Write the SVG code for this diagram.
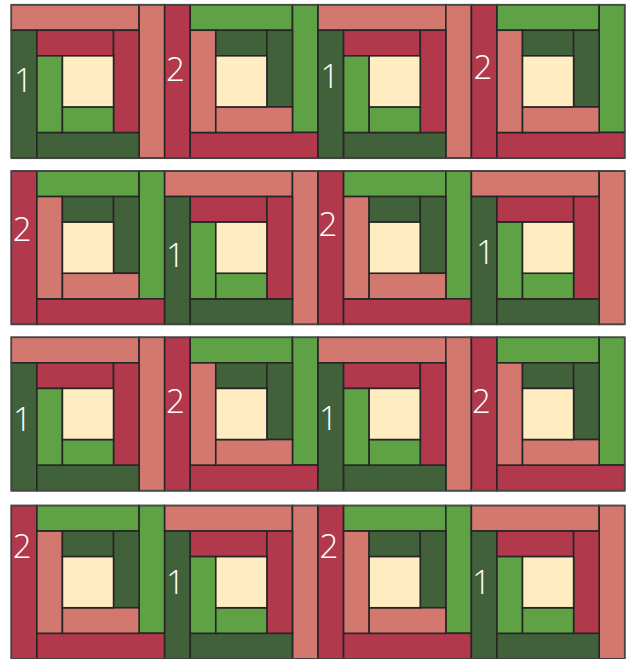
<svg xmlns="http://www.w3.org/2000/svg" xmlns:xlink="http://www.w3.org/1999/xlink" width="633" height="659" viewBox="0 0 633 659">
<style>
rect{stroke:#262626;stroke-width:1.6}
.s{fill:#D3786F}.r{fill:#B2394C}.g{fill:#5FA245}.d{fill:#41613B}.c{fill:#FFECC0}
.row{fill:none;stroke:#4a4a4a;stroke-width:1.2}
.shadow{stroke:#d4d4d4;stroke-width:1.2}
text{font-family:"Open Sans","Noto Sans","Liberation Sans",sans-serif;font-weight:300;font-size:33px;fill:#ffffff;text-anchor:middle}
</style>
<defs>
<g id="blockA">
<rect class="s" x="0" y="0" width="127.8" height="25.56"/>
<rect class="s" x="127.8" y="0" width="25.56" height="153.36"/>
<rect class="d" x="0" y="25.56" width="25.56" height="127.8"/>
<rect class="d" x="25.56" y="127.8" width="102.24" height="25.56"/>
<rect class="r" x="25.56" y="25.56" width="76.68" height="25.56"/>
<rect class="r" x="102.24" y="25.56" width="25.56" height="102.24"/>
<rect class="g" x="25.56" y="51.12" width="25.56" height="76.68"/>
<rect class="g" x="51.12" y="102.24" width="51.12" height="25.56"/>
<rect class="c" x="51.12" y="51.12" width="51.12" height="51.12"/>
</g>
<g id="blockB">
<rect class="r" x="0" y="0" width="25.56" height="153.36"/>
<rect class="g" x="25.56" y="0" width="102.24" height="25.56"/>
<rect class="g" x="127.8" y="0" width="25.56" height="127.8"/>
<rect class="r" x="25.56" y="127.8" width="127.8" height="25.56"/>
<rect class="s" x="25.56" y="25.56" width="25.56" height="102.24"/>
<rect class="d" x="51.12" y="25.56" width="51.12" height="25.56"/>
<rect class="d" x="102.24" y="25.56" width="25.56" height="76.68"/>
<rect class="s" x="51.12" y="102.24" width="76.68" height="25.56"/>
<rect class="c" x="51.12" y="51.12" width="51.12" height="51.12"/>
</g>
</defs>
<rect width="633" height="659" fill="#ffffff" style="stroke:none"/>
<g id="shadows">
<line class="shadow" x1="11.3" y1="158.6" x2="624.7" y2="158.6"/>
<line class="shadow" x1="11.3" y1="324.9" x2="624.7" y2="324.9"/>
<line class="shadow" x1="11.3" y1="491.3" x2="624.7" y2="491.3"/>
</g>
<g id="row1">
<g id="r1b1"><use xlink:href="#blockA" x="11.3" y="4.7"/><text x="23.5" y="92">1</text></g>
<g id="r1b2"><use xlink:href="#blockB" x="164.66" y="4.7"/><text x="175.5" y="81">2</text></g>
<g id="r1b3"><use xlink:href="#blockA" x="318.02" y="4.7"/><text x="330" y="88">1</text></g>
<g id="r1b4"><use xlink:href="#blockB" x="471.38" y="4.7"/><text x="483" y="79">2</text></g>
<rect class="row" x="11.3" y="4.7" width="613.44" height="153.36"/>
</g>
<g id="row2">
<g id="r2b1"><use xlink:href="#blockB" x="11.3" y="171"/><text x="22.2" y="241">2</text></g>
<g id="r2b2"><use xlink:href="#blockA" x="164.66" y="171"/><text x="175.5" y="266.7">1</text></g>
<g id="r2b3"><use xlink:href="#blockB" x="318.02" y="171"/><text x="327.8" y="235.7">2</text></g>
<g id="r2b4"><use xlink:href="#blockA" x="471.38" y="171"/><text x="485.5" y="264.3">1</text></g>
<rect class="row" x="11.3" y="171" width="613.44" height="153.36"/>
</g>
<g id="row3">
<g id="r3b1"><use xlink:href="#blockA" x="11.3" y="337.3"/><text x="22.5" y="431.3">1</text></g>
<g id="r3b2"><use xlink:href="#blockB" x="164.66" y="337.3"/><text x="175.5" y="413">2</text></g>
<g id="r3b3"><use xlink:href="#blockA" x="318.02" y="337.3"/><text x="328.5" y="429.7">1</text></g>
<g id="r3b4"><use xlink:href="#blockB" x="471.38" y="337.3"/><text x="481.5" y="412.7">2</text></g>
<rect class="row" x="11.3" y="337.3" width="613.44" height="153.36"/>
</g>
<g id="row4">
<g id="r4b1"><use xlink:href="#blockB" x="11.3" y="505.5"/><text x="22.2" y="558.3">2</text></g>
<g id="r4b2"><use xlink:href="#blockA" x="164.66" y="505.5"/><text x="175.5" y="594">1</text></g>
<g id="r4b3"><use xlink:href="#blockB" x="318.02" y="505.5"/><text x="329" y="558">2</text></g>
<g id="r4b4"><use xlink:href="#blockA" x="471.38" y="505.5"/><text x="481.5" y="594">1</text></g>
<rect class="row" x="11.3" y="505.5" width="613.44" height="153.36"/>
</g>
</svg>
